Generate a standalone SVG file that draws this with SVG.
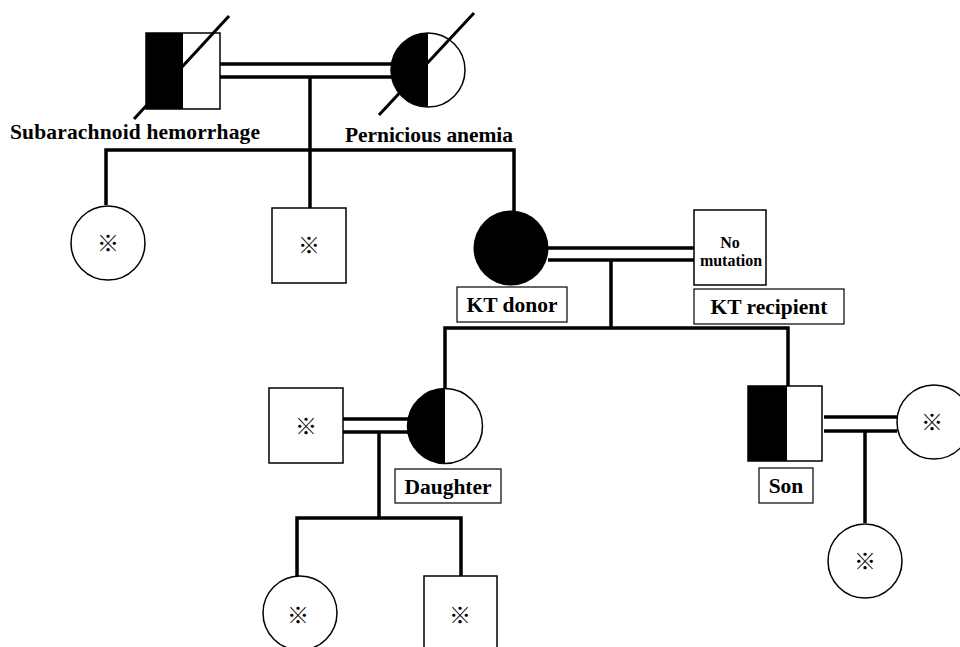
<svg xmlns="http://www.w3.org/2000/svg" width="960" height="647" viewBox="0 0 960 647">
<style>
.sym{fill:#fff;stroke:#000;stroke-width:1.5}
.blk{fill:#000;stroke:none}
.ln{fill:none;stroke:#000;stroke-width:3.5}
.sl{fill:none;stroke:#000;stroke-width:3}
.lbl{font-family:"Liberation Serif","Times New Roman",serif;font-weight:bold;font-size:21.5px;fill:#000}
.sm{font-family:"Liberation Serif","Times New Roman",serif;font-weight:bold;font-size:16px;fill:#000}
.mk{font-family:"Noto Sans CJK JP","Liberation Serif",sans-serif;font-size:22px;fill:#000}
.box{fill:#fff;stroke:#000;stroke-width:1.2}
</style>
<rect width="960" height="647" fill="#fff"/>
<g id="connectors">
<line class="ln" x1="220" y1="64" x2="391" y2="64"/>
<line class="ln" x1="220" y1="77" x2="391" y2="77"/>
<line class="ln" x1="310" y1="77" x2="310" y2="208"/>
<polyline class="ln" points="106,205 106,150 514,150 514,211"/>
<line class="ln" x1="548" y1="248" x2="694" y2="248"/>
<line class="ln" x1="548" y1="260" x2="694" y2="260"/>
<line class="ln" x1="611" y1="260" x2="611" y2="328"/>
<polyline class="ln" points="445,391 445,328 788,328 788,386"/>
<line class="ln" x1="343" y1="419" x2="408" y2="419"/>
<line class="ln" x1="343" y1="432" x2="408" y2="432"/>
<line class="ln" x1="379" y1="432" x2="379" y2="518"/>
<polyline class="ln" points="297,577 297,518 461,518 461,576"/>
<line class="ln" x1="824" y1="417" x2="897" y2="417"/>
<line class="ln" x1="824" y1="431" x2="897" y2="431"/>
<line class="ln" x1="865" y1="431" x2="865" y2="523"/>
</g>
<g id="grandfather">
<rect class="sym" x="146" y="33" width="74" height="76"/>
<rect class="blk" x="146" y="33" width="37" height="76"/>
<line class="sl" x1="134" y1="119" x2="229" y2="16"/>
<text class="lbl" x="10" y="139" textLength="250">Subarachnoid hemorrhage</text>
</g>
<g id="grandmother">
<circle class="sym" cx="428" cy="70" r="37"/>
<path class="blk" d="M428,33 A37,37 0 0 0 428,107 Z"/>
<line class="sl" x1="379" y1="115" x2="474" y2="13"/>
<text class="lbl" x="345" y="142" textLength="168">Pernicious anemia</text>
</g>
<g id="aunt">
<circle class="sym" cx="108" cy="243" r="37"/>
<text class="mk" x="108" y="251" text-anchor="middle">※</text>
</g>
<g id="uncle">
<rect class="sym" x="272" y="208" width="74" height="75"/>
<text class="mk" x="309" y="253" text-anchor="middle">※</text>
</g>
<g id="donor">
<circle cx="511" cy="248" r="37.5" fill="#000"/>
<rect class="box" x="457" y="287" width="110" height="35"/>
<text class="lbl" x="512" y="312" text-anchor="middle">KT donor</text>
</g>
<g id="recipient">
<rect class="sym" x="694" y="210" width="72" height="75"/>
<text class="sm" x="730" y="248" text-anchor="middle">No</text>
<text class="sm" x="731" y="266" text-anchor="middle">mutation</text>
<rect class="box" x="694" y="289" width="150" height="35"/>
<text class="lbl" x="769" y="314" text-anchor="middle">KT recipient</text>
</g>
<g id="daughter-spouse">
<rect class="sym" x="269" y="388" width="74" height="75"/>
<text class="mk" x="306" y="434" text-anchor="middle">※</text>
</g>
<g id="daughter">
<circle class="sym" cx="445" cy="426" r="37.5"/>
<path class="blk" d="M445,388.5 A37.5,37.5 0 0 0 445,463.5 Z"/>
<rect class="box" x="395" y="469" width="106" height="34"/>
<text class="lbl" x="448" y="494" text-anchor="middle">Daughter</text>
</g>
<g id="son">
<rect class="sym" x="748" y="386" width="74" height="75"/>
<rect class="blk" x="748" y="386" width="39" height="75"/>
<rect class="box" x="759" y="468" width="54" height="35"/>
<text class="lbl" x="786" y="493" text-anchor="middle">Son</text>
</g>
<g id="son-spouse">
<circle class="sym" cx="934" cy="422" r="37"/>
<text class="mk" x="932" y="430" text-anchor="middle">※</text>
</g>
<g id="son-child">
<circle class="sym" cx="865" cy="561" r="37"/>
<text class="mk" x="865" y="569" text-anchor="middle">※</text>
</g>
<g id="granddaughter">
<circle class="sym" cx="300" cy="613" r="37"/>
<text class="mk" x="298" y="623" text-anchor="middle">※</text>
</g>
<g id="grandson">
<rect class="sym" x="424" y="576" width="73" height="80"/>
<text class="mk" x="460" y="623" text-anchor="middle">※</text>
</g>
</svg>
